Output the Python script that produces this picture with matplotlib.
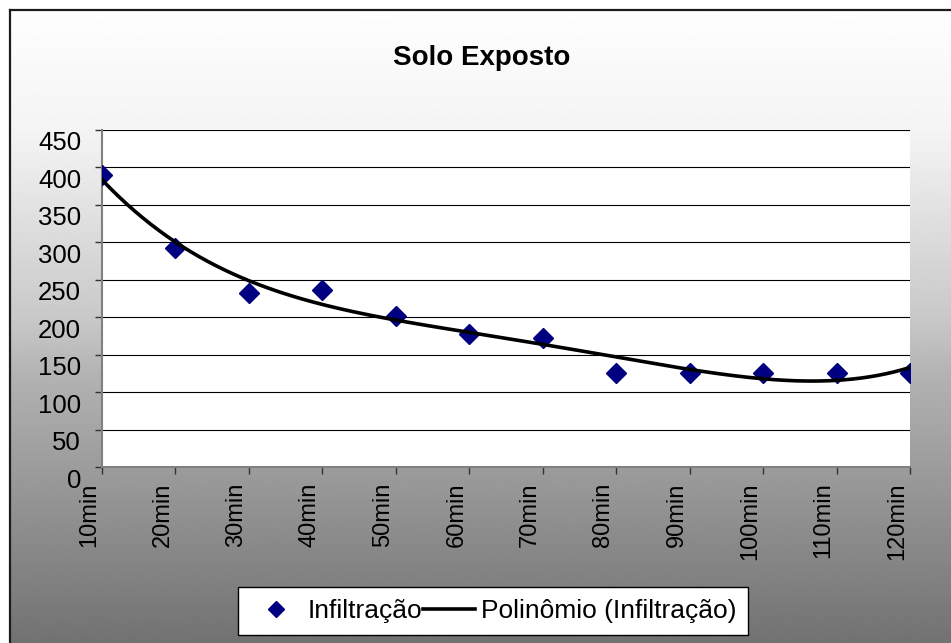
import numpy as np
import matplotlib.pyplot as plt
from matplotlib import transforms
from matplotlib.lines import Line2D

plt.rcParams['font.family'] = ['Liberation Sans', 'DejaVu Sans']

# tempo de ensaio e taxa de infiltração
tempos = ['10min', '20min', '30min', '40min', '50min', '60min',
          '70min', '80min', '90min', '100min', '110min', '120min']
infiltracao = [390, 293, 232, 236, 202, 178, 172, 126, 126, 126, 126, 126]
grau_polinomio = 4

W, H = 951, 643
fig = plt.figure(figsize=(W / 100, H / 100), dpi=100)
fig.patch.set_facecolor('white')

# fundo em degradê (branco em cima, cinza embaixo)
bg = fig.add_axes([10 / W, 0, 1 - 10 / W, 1 - 10 / H], zorder=-5)
ys = np.linspace(0, 1, 400)
tons = np.interp(ys, [0, 0.19, 0.49, 0.58, 1.0], [254, 244, 200, 178, 114]) / 255
grad = np.repeat(tons[:, None], 2, axis=1)
bg.imshow(grad, cmap='gray', vmin=0, vmax=1, aspect='auto',
          extent=[0, 1, 1, 0], interpolation='bilinear')
bg.set_xlim(0, 1)
bg.set_ylim(1, 0)
bg.axis('off')

# moldura do gráfico
fig.add_artist(Line2D([10 / W, 10 / W], [0, 1 - 10 / H], color='#1c1c1c', lw=1.6))
fig.add_artist(Line2D([10 / W, 1], [1 - 10 / H, 1 - 10 / H], color='#1c1c1c', lw=1.6))

ax = fig.add_axes([102 / W, 1 - 467 / H, (910 - 102) / W, (467 - 130) / H])
ax.set_facecolor('white')

x = np.arange(len(tempos))
ax.plot(x, infiltracao, linestyle='none', marker='D', markersize=10.5,
        color='#000080', label='Infiltração', zorder=3)

# linha de tendência polinomial (ajuste sobre x = 1..12, como no Excel)
coef = np.polyfit(x + 1, infiltracao, grau_polinomio)
xs = np.linspace(0, len(tempos) - 1, 300)
ax.plot(xs, np.polyval(coef, xs + 1), color='black', lw=2.6,
        label='Polinômio (Infiltração)', zorder=4)

ax.set_xlim(0, len(tempos) - 1)
ax.set_ylim(0, 450)
ax.set_yticks(np.arange(0, 451, 50))
ax.set_xticks(x)
ax.set_xticklabels(tempos, rotation=90, fontsize=17, va='top')
ax.tick_params(axis='y', labelsize=18.5, length=5, width=1, color='#333333', pad=10)
ax.tick_params(axis='x', length=5, width=1, color='#333333', pad=6)
ax.yaxis.grid(True, color='black', lw=0.8)
ax.set_axisbelow(True)
for s in ['top', 'right']:
    ax.spines[s].set_visible(False)
for s in ['left', 'bottom']:
    ax.spines[s].set_color('#808080')
    ax.spines[s].set_linewidth(1.5)

# deslocamento dos rótulos dos eixos
off_y = transforms.ScaledTranslation(0, -11 / 100, fig.dpi_scale_trans)
for lab in ax.get_yticklabels():
    lab.set_transform(lab.get_transform() + off_y)
off_x = transforms.ScaledTranslation(-13 / 100, 0, fig.dpi_scale_trans)
for lab in ax.get_xticklabels():
    lab.set_transform(lab.get_transform() + off_x)

fig.text(482 / W, 1 - 58 / H, 'Solo Exposto', ha='center', va='center',
         fontsize=20, fontweight='bold')

leg = fig.legend(loc='center', bbox_to_anchor=(493 / W, 1 - 611 / H), ncol=2,
                 fontsize=19, frameon=True, fancybox=False, shadow=False,
                 handlelength=2.0, handletextpad=0.2, columnspacing=0.0,
                 borderpad=0.45, markerscale=0.8)
leg.get_frame().set_edgecolor('black')
leg.get_frame().set_linewidth(1.0)
leg.get_frame().set_facecolor('white')
leg.get_frame().set_alpha(1)

fig.savefig('out.png', dpi=100)
plt.close()
